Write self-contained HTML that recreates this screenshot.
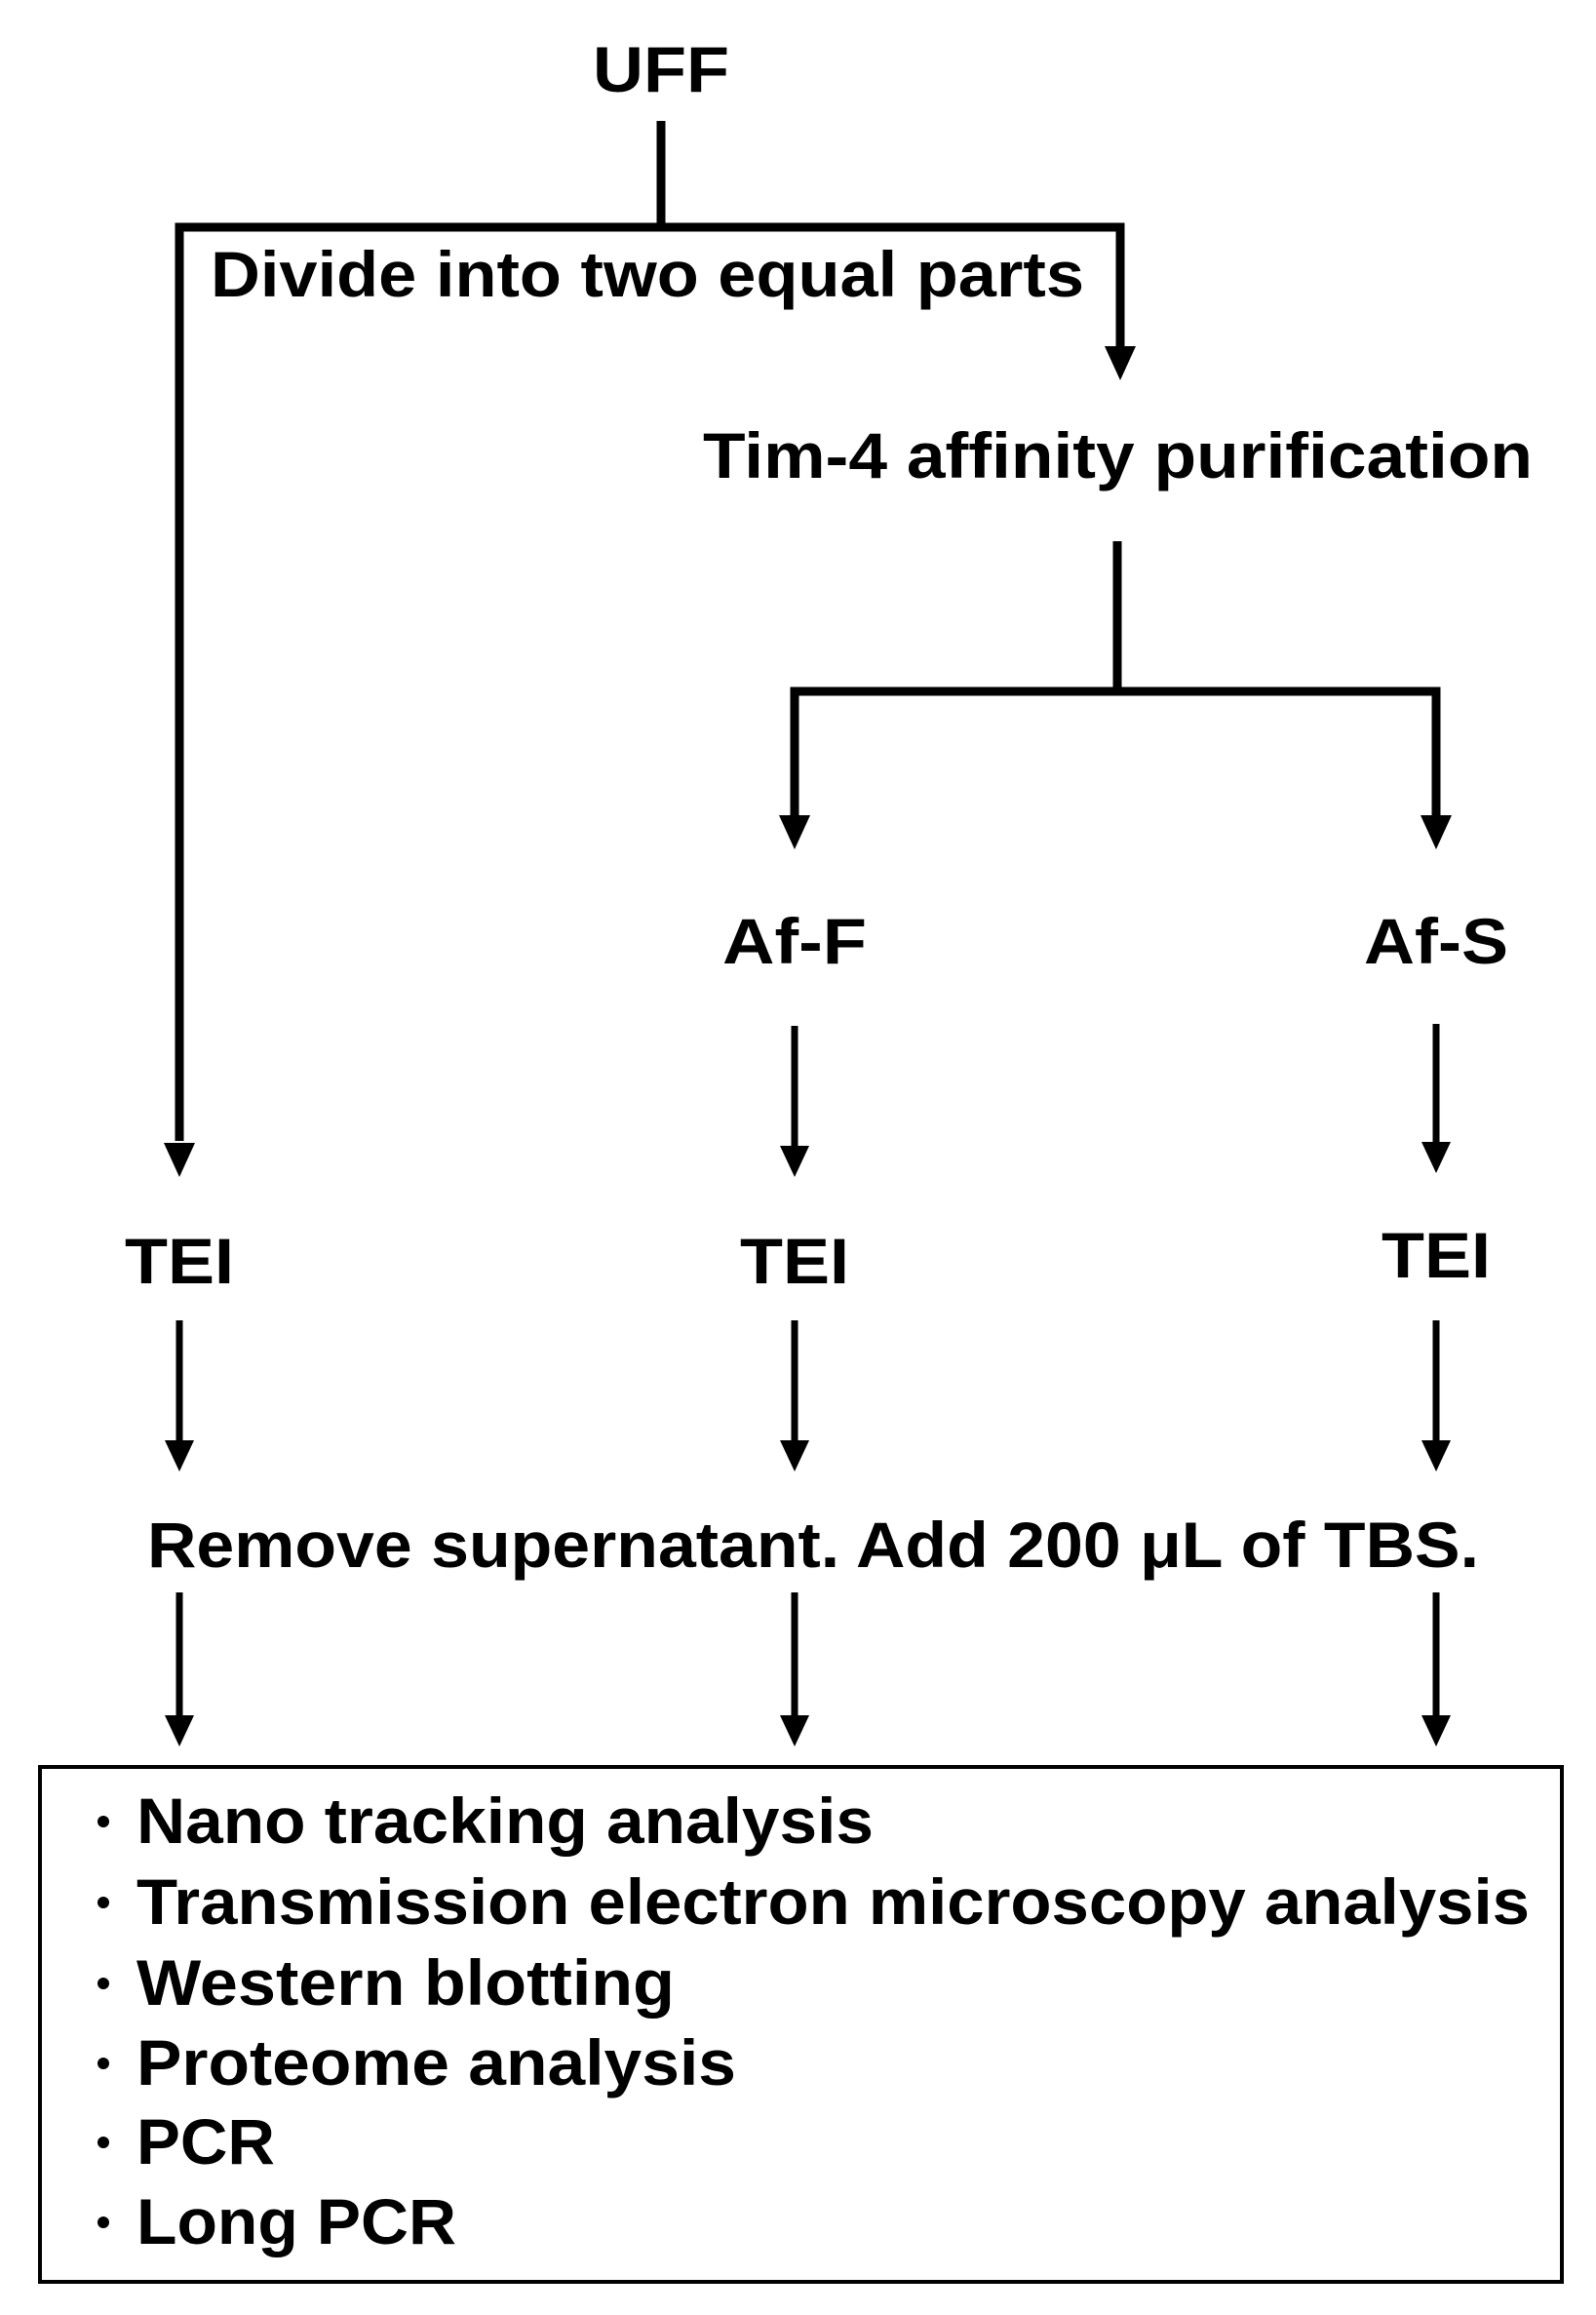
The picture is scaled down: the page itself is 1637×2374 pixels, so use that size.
<!DOCTYPE html>
<html><head><meta charset="utf-8"><style>html,body{margin:0;padding:0;background:#fff}svg{display:block}</style></head>
<body>
<svg width="1637" height="2374" viewBox="0 0 1637 2374" xmlns="http://www.w3.org/2000/svg">
<g fill="none" stroke="#000" stroke-width="9">
<line x1="678" y1="124" x2="678" y2="233"/>
<polyline points="184,1170 184,233 1149,233 1149,358"/>
<line x1="1146" y1="555" x2="1146" y2="709"/>
<polyline points="815,840 815,709 1473,709 1473,840"/>
</g>
<g fill="#000">
<path d="M1133,355 L1165,355 L1149,390 Z"/>
<path d="M799,836 L831,836 L815,871 Z"/>
<path d="M1457,836 L1489,836 L1473,871 Z"/>
<path d="M168,1172 L200,1172 L184,1207 Z"/>
</g>
<g stroke="#000" stroke-width="7" fill="none">
<line x1="815" y1="1052" x2="815" y2="1180"/>
<line x1="1473" y1="1050" x2="1473" y2="1176"/>
<line x1="184" y1="1354" x2="184" y2="1480"/>
<line x1="815" y1="1354" x2="815" y2="1480"/>
<line x1="1473" y1="1354" x2="1473" y2="1480"/>
<line x1="184" y1="1633" x2="184" y2="1762"/>
<line x1="815" y1="1633" x2="815" y2="1762"/>
<line x1="1473" y1="1633" x2="1473" y2="1762"/>
</g>
<g fill="#000">
<path d="M800,1175 L830,1175 L815,1207 Z"/>
<path d="M1458,1171 L1488,1171 L1473,1203 Z"/>
<path d="M169,1477 L199,1477 L184,1509 Z"/>
<path d="M800,1477 L830,1477 L815,1509 Z"/>
<path d="M1458,1477 L1488,1477 L1473,1509 Z"/>
<path d="M169,1759 L199,1759 L184,1791 Z"/>
<path d="M800,1759 L830,1759 L815,1791 Z"/>
<path d="M1458,1759 L1488,1759 L1473,1791 Z"/>
</g>
<rect x="41" y="1812" width="1561" height="528" fill="none" stroke="#000" stroke-width="4"/>
<g font-family="Liberation Sans, sans-serif" font-size="66" font-weight="bold" fill="#000">
<text x="678" y="94" text-anchor="middle" textLength="140" lengthAdjust="spacingAndGlyphs">UFF</text>
<text x="216" y="304" textLength="896" lengthAdjust="spacingAndGlyphs">Divide into two equal parts</text>
<text x="721" y="490" textLength="851" lengthAdjust="spacingAndGlyphs">Tim-4 affinity purification</text>
<text x="815" y="988" text-anchor="middle" textLength="148" lengthAdjust="spacingAndGlyphs">Af-F</text>
<text x="1473" y="988" text-anchor="middle" textLength="148" lengthAdjust="spacingAndGlyphs">Af-S</text>
<text x="184" y="1316" text-anchor="middle" textLength="112" lengthAdjust="spacingAndGlyphs">TEI</text>
<text x="815" y="1316" text-anchor="middle" textLength="112" lengthAdjust="spacingAndGlyphs">TEI</text>
<text x="1473" y="1310" text-anchor="middle" textLength="112" lengthAdjust="spacingAndGlyphs">TEI</text>
<text x="151" y="1607" textLength="1366" lengthAdjust="spacingAndGlyphs">Remove supernatant. Add 200 μL of TBS.</text>
<text x="140" y="1890" textLength="756" lengthAdjust="spacingAndGlyphs">Nano tracking analysis</text>
<text x="140" y="1973" textLength="1429" lengthAdjust="spacingAndGlyphs">Transmission electron microscopy analysis</text>
<text x="140" y="2056" textLength="552" lengthAdjust="spacingAndGlyphs">Western blotting</text>
<text x="140" y="2138" textLength="615" lengthAdjust="spacingAndGlyphs">Proteome analysis</text>
<text x="140" y="2219" textLength="142" lengthAdjust="spacingAndGlyphs">PCR</text>
<text x="140" y="2301" textLength="328" lengthAdjust="spacingAndGlyphs">Long PCR</text>
</g>
<g fill="#000">
<circle cx="106" cy="1868" r="6"/>
<circle cx="106" cy="1951" r="6"/>
<circle cx="106" cy="2034" r="6"/>
<circle cx="106" cy="2116" r="6"/>
<circle cx="106" cy="2197" r="6"/>
<circle cx="106" cy="2279" r="6"/>
</g>
</svg>
</body></html>
